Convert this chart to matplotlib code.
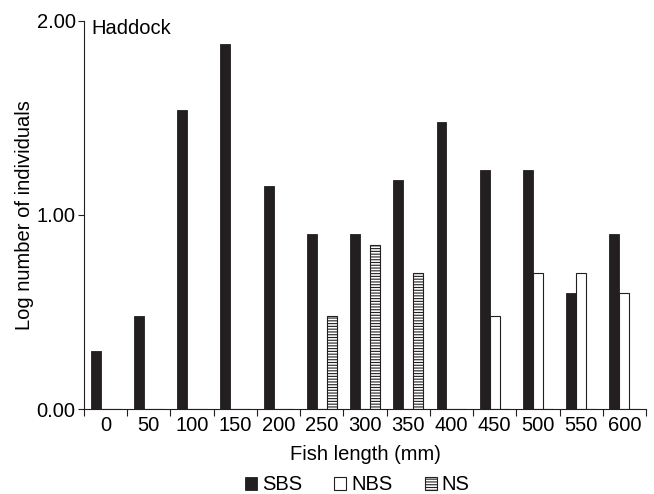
#!/usr/bin/env python3

import numpy as np
import matplotlib.pyplot as plt

plt.rcParams['font.family'] = ['Liberation Sans', 'DejaVu Sans']
plt.rcParams['hatch.linewidth'] = 0.8

lengths = ['0', '50', '100', '150', '200', '250', '300', '350', '400', '450', '500', '550', '600']
sbs = [0.30, 0.48, 1.54, 1.88, 1.15, 0.90, 0.90, 1.18, 1.48, 1.23, 1.23, 0.60, 0.90]
nbs = [0, 0, 0, 0, 0, 0, 0, 0, 0, 0.48, 0.70, 0.70, 0.60]
ns = [0, 0, 0, 0, 0, 0.48, 0.845, 0.70, 0, 0, 0, 0, 0]

dark = '#231f20'
fs = 14.5


def main():
	fig = plt.figure(figsize=(6.54, 4.94), dpi=100)
	ax = fig.add_axes([0.1284, 0.172, 0.8594, 0.786])

	x = np.arange(len(lengths))
	w = 0.23
	ax.bar(x - w, sbs, w, color=dark, edgecolor=dark, linewidth=0.6, label='SBS')
	ax.bar(x, nbs, w, color='white', edgecolor=dark, linewidth=0.8, label='NBS')
	ax.bar(x + w, ns, w, color='white', edgecolor=dark, linewidth=0.8, hatch='------', label='NS')

	ax.set_xlim(-0.5, len(lengths) - 0.5)
	ax.set_ylim(0, 2)
	ax.set_yticks([0, 1, 2])
	ax.set_yticklabels(['0.00', '1.00', '2.00'])
	ax.set_xticks(x)
	ax.set_xticklabels(lengths)
	ax.set_xticks(np.arange(len(lengths) + 1) - 0.5, minor=True)
	ax.tick_params(axis='x', which='major', length=0, pad=5, labelsize=fs)
	ax.tick_params(axis='x', which='minor', length=5, width=0.8, color=dark)
	ax.tick_params(axis='y', length=4, width=0.8, color=dark, labelsize=fs, pad=2)

	for s in ['top', 'right']:
		ax.spines[s].set_visible(False)
	for s in ['left', 'bottom']:
		ax.spines[s].set_linewidth(0.8)
		ax.spines[s].set_color(dark)

	ax.set_xlabel('Fish length (mm)', fontsize=fs, labelpad=7)
	ax.set_ylabel('Log number of individuals', fontsize=fs, labelpad=2)
	ax.text(0.014, 1.005, 'Haddock', transform=ax.transAxes, fontsize=fs, va='top', ha='left')

	ax.legend(loc='upper center', bbox_to_anchor=(0.486, -0.15), ncol=3, frameon=False,
		fontsize=fs, handlelength=0.6, handleheight=0.6, handletextpad=0.25,
		columnspacing=1.6, borderaxespad=0)

	fig.savefig('out.png', dpi=100)


if __name__=="__main__":
	main()
